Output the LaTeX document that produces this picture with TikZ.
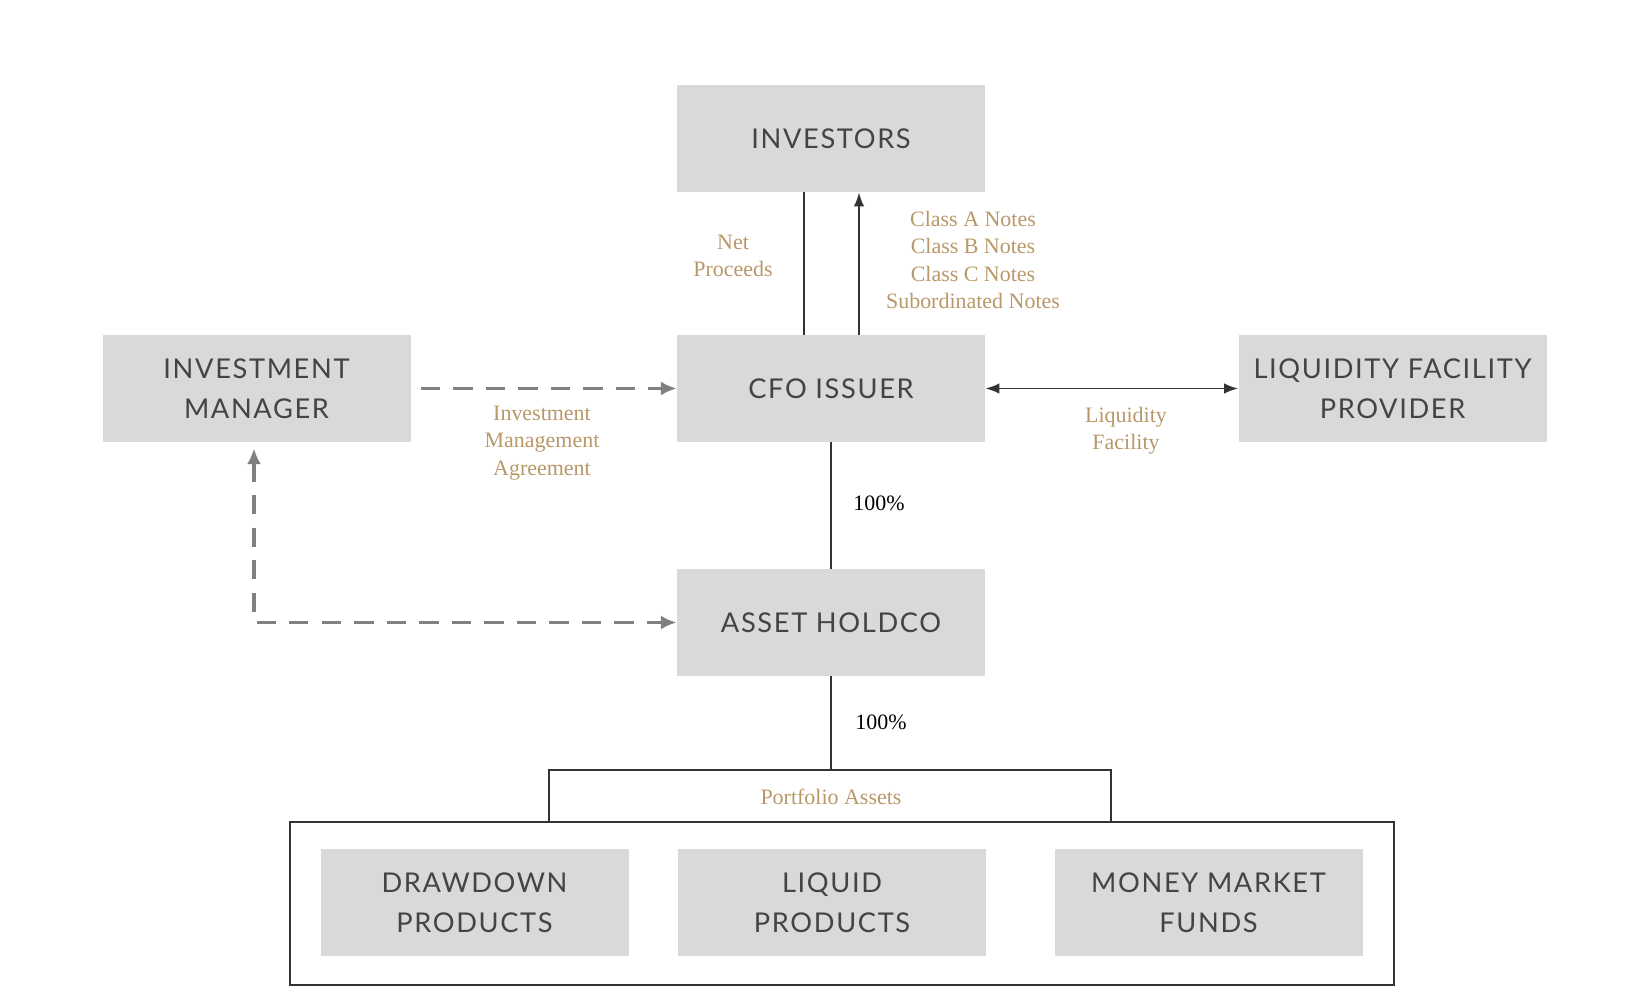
\documentclass[tikz,border=0pt]{standalone}
\usepackage{fontspec}
\setmainfont{Liberation Serif}
\newfontfamily\boxfont[LetterSpace=6]{Lato}
\usepackage{xcolor}
\usetikzlibrary{arrows.meta,positioning}
\definecolor{boxC}{RGB}{217,217,217}
\definecolor{boxtextC}{RGB}{68,68,68}
\definecolor{goldC}{RGB}{184,152,104}
\definecolor{dashC}{RGB}{128,128,128}

\begin{document}
\begin{tikzpicture}[scale=1.0,
    entity/.style={fill=boxC,minimum width=6.16cm,minimum height=2.14cm,
      align=center,text=boxtextC,font=\boxfont\fontsize{15.5}{22.5}\selectfont},
    lbl/.style={text=goldC,align=center,font=\fontsize{12.5}{15.5}\selectfont},
    pct/.style={text=black,font=\fontsize{12.5}{15}\selectfont},
    link/.style={draw=black!80,line width=1.1pt},
    mgmt/.style={draw=dashC,line width=2pt,dash pattern=on 11pt off 7.5pt,
      -{Latex[length=9pt,width=8pt]}}]
  \useasboundingbox (0,0) rectangle (32.92,20.12);

  % Top row
  \node[entity] (investors) at (16.62,17.35) {INVESTORS};

  % Middle row
  \node[entity] (manager) at (5.13,12.35) {INVESTMENT\\MANAGER};
  \node[entity] (issuer) at (16.62,12.35) {CFO ISSUER};
  \node[entity] (liquidity) at (27.85,12.35) {LIQUIDITY FACILITY\\PROVIDER};

  % Holdco
  \node[entity] (holdco) at (16.62,7.67) {ASSET HOLDCO};

  % Portfolio assets
  \draw[link] (5.80,0.42) rectangle (27.88,3.68);
  \draw[link] (10.98,3.68) rectangle (22.22,4.72);
  \coordinate (portfolio) at (16.62,4.72);
  \node[lbl] (portlbl) at (16.62,4.18) {Portfolio Assets};
  \node[entity] (drawdown) at (9.49,2.07) {DRAWDOWN\\PRODUCTS};
  \node[entity] (liquid) at (16.64,2.07) {LIQUID\\PRODUCTS};
  \node[entity] (mmf) at (24.17,2.07) {MONEY MARKET\\FUNDS};

  % Issuer <-> investors
  \draw[link] (issuer.north -| 16.08,0) -- (investors.south -| 16.08,0);
  \draw[link,-{Latex[length=8pt,width=6pt]}] (issuer.north -| 17.18,0)
    -- (investors.south -| 17.18,0);
  \node[lbl] (proceeds) at (14.66,15.00) {Net\\Proceeds};
  \node[lbl] (notes) at (19.46,14.92)
    {Class A Notes\\Class B Notes\\Class C Notes\\Subordinated Notes};

  % Management agreement (dashed)
  \draw[mgmt] ([xshift=0.2cm]manager.east) -- (issuer.west);
  \node[lbl] (ima) at (10.84,11.26) {Investment\\Management\\Agreement};
  \draw[mgmt,{Latex[length=9pt,width=8pt]}-{Latex[length=9pt,width=8pt]},
    shorten <=0.12cm] (manager.south -| 5.08,0) |- (holdco.west);

  % Liquidity facility
  \draw[link,{Latex[length=8pt,width=6pt]}-{Latex[length=8pt,width=6pt]}]
    (issuer.east) -- (liquidity.west);
  \node[lbl] (facility) at (22.52,11.50) {Liquidity\\Facility};

  % Ownership
  \draw[link] (issuer.south) -- (holdco.north);
  \node[pct] (own1) at (17.58,10.06) {100\%};
  \draw[link] (holdco.south) -- (portfolio);
  \node[pct] (own2) at (17.62,5.68) {100\%};
\end{tikzpicture}
\end{document}
